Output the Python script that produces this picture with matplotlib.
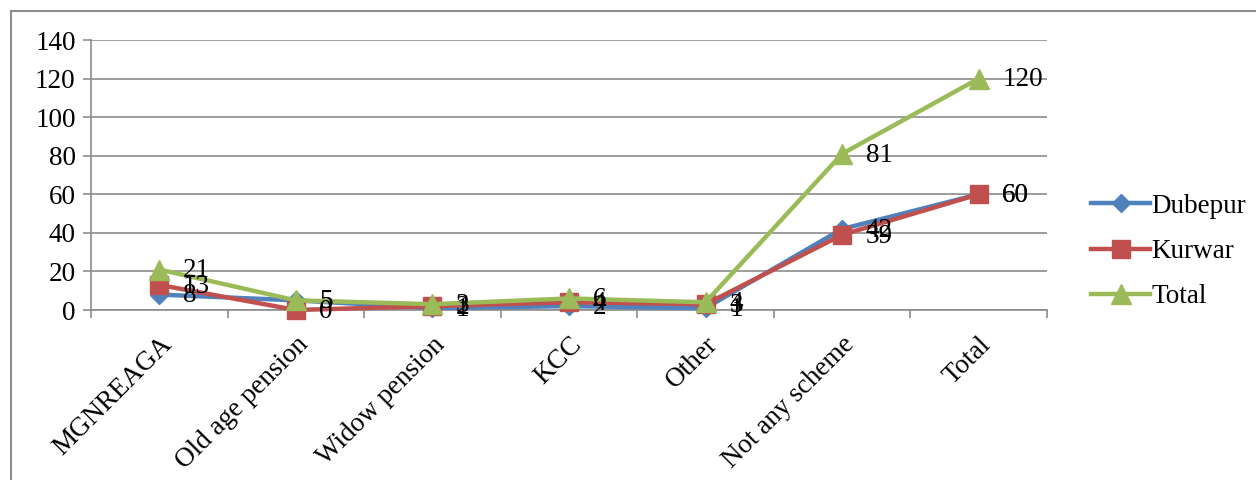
import matplotlib
matplotlib.use("Agg")
import matplotlib.pyplot as plt
from matplotlib.lines import Line2D

plt.rcParams['font.family'] = ['Liberation Serif', 'DejaVu Serif']

# Beneficiaries of government schemes, by village
categories = ["MGNREAGA", "Old age pension", "Widow pension", "KCC",
              "Other", "Not any scheme", "Total"]
dubepur = [8, 5, 1, 2, 1, 42, 60]
kurwar = [13, 0, 2, 4, 3, 39, 60]
total = [21, 5, 3, 6, 4, 81, 120]

series = [
    ("Dubepur", dubepur, "#4F81BD", "D", 9),
    ("Kurwar", kurwar, "#C0504D", "s", 13),
    ("Total", total, "#9BBB59", "^", 14),
]

FS = 19.5
W, H = 1256, 480
fig = plt.figure(figsize=(W / 100, H / 100), dpi=100)
ax = fig.add_axes([91 / W, 1 - 310 / H, (1047 - 91) / W, 270 / H])

x = list(range(len(categories)))
handles = []
for z, (name, vals, color, marker, ms) in enumerate(series):
    h, = ax.plot(x, vals, color=color, lw=3.2, marker=marker, ms=ms,
                 markeredgecolor=color, label=name, zorder=3 + z,
                 clip_on=False)
    handles.append(h)
    for xi, v in zip(x, vals):
        ax.annotate(str(v), (xi, v), xytext=(17, -1), textcoords="offset points",
                    ha="left", va="center", fontsize=FS, color="black",
                    zorder=10)

ax.set_xlim(-0.5, len(categories) - 0.5)
ax.set_ylim(0, 140)
ax.set_yticks(range(0, 141, 20))
ax.yaxis.grid(True, color="#8c8c8c", lw=1.2)
ax.set_axisbelow(True)

ax.set_xticks([i - 0.5 for i in range(len(categories) + 1)])
ax.set_xticklabels([])
ax.set_xticks(x, minor=True)
ax.set_xticklabels(categories, minor=True, rotation=45, ha="right",
                   va="top", rotation_mode="anchor", fontsize=FS)
ax.tick_params(axis="x", which="minor", length=0, pad=16)
ax.tick_params(axis="x", which="major", length=6, width=1.2, color="#8c8c8c",
               direction="out")
ax.tick_params(axis="y", length=6, width=1.2, color="#8c8c8c",
               labelsize=FS, pad=5)

for s in ["top", "right"]:
    ax.spines[s].set_visible(False)
for s in ["left", "bottom"]:
    ax.spines[s].set_color("#8c8c8c")
    ax.spines[s].set_linewidth(1.2)

fig.legend(handles=handles, loc="upper left",
           bbox_to_anchor=(1080 / W, 1 - 183 / H), frameon=False,
           fontsize=FS, handlelength=2.2, handletextpad=0.05,
           labelspacing=0.75, borderaxespad=0)

# outer chart frame (left and top edges visible)
fig.add_artist(Line2D([11 / W, 11 / W], [0, 1 - 11 / H], color="#8c8c8c",
                      lw=1.5, transform=fig.transFigure))
fig.add_artist(Line2D([11 / W, 1], [1 - 11 / H, 1 - 11 / H], color="#8c8c8c",
                      lw=1.5, transform=fig.transFigure))

fig.savefig("out.png", dpi=100)
